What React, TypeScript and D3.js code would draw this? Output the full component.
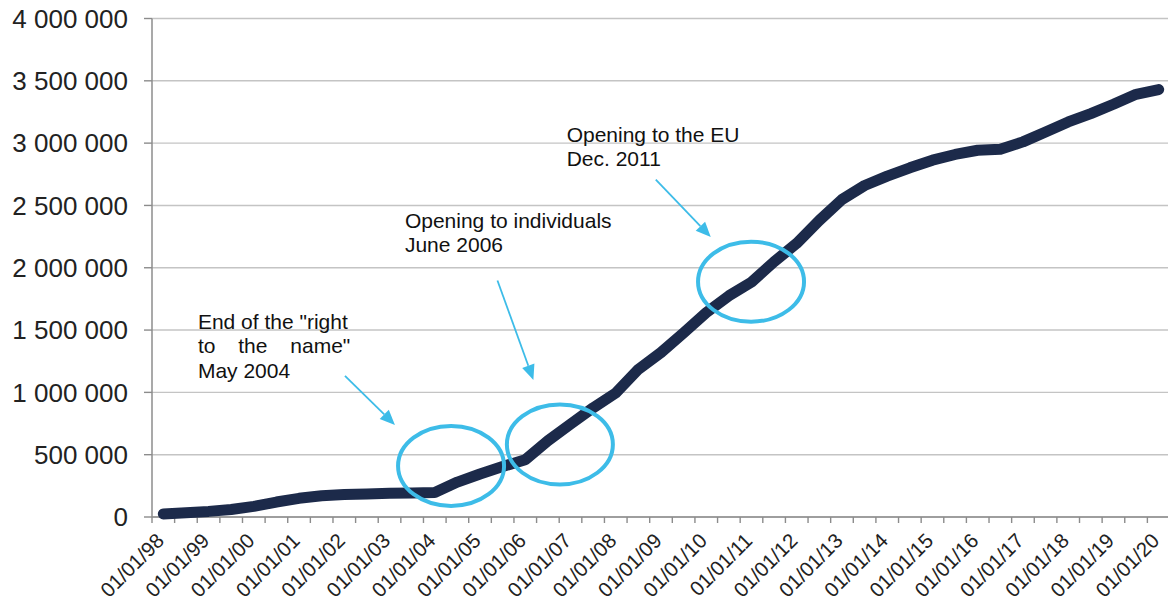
import React from "react";
import * as d3 from "d3";

// Semiannual observation dates (01/01 and 01/07 of each year, 1998–2020)
const categories: string[] = [];
for (let y = 98; y <= 120; y++) {
  const yy = String(y % 100).padStart(2, "0");
  categories.push(`01/01/${yy}`);
  if (y < 120) categories.push(`01/07/${yy}`);
}

// Number of domain names
const values: number[] = [
  25000, 35000, 45000, 60000, 85000, 120000, 150000, 170000, 180000, 185000,
  190000, 193000, 197000, 280000, 345000, 405000, 460000, 612000, 745000, 876000,
  995000, 1185000, 1320000, 1478000, 1640000, 1775000, 1885000, 2048000, 2196000, 2380000,
  2548000, 2660000, 2735000, 2802000, 2863000, 2909000, 2943000, 2951000, 3010000, 3090000,
  3170000, 3237000, 3312000, 3392000, 3430000,
];

const yTicks: number[] = [0, 500000, 1000000, 1500000, 2000000, 2500000, 3000000, 3500000, 4000000];

// Annotations (positions in category index / value units)
const ellipses = [
  { idx: 12.72, val: 410000 },
  { idx: 17.53, val: 582000 },
  { idx: 25.98, val: 1888000 },
];
const arrows = [
  { i0: 8.03, v0: 1132000, i1: 10.24, v1: 739000 },
  { i0: 14.77, v0: 1898000, i1: 16.36, v1: 1100000 },
  { i0: 21.77, v0: 2707000, i1: 24.2, v1: 2247000 },
];
const notes = [
  { idx: 1.53, val: 1510000, lines: ['End of the "right', 'to the name"', "May 2004"], justify: 1 },
  { idx: 10.68, val: 2319000, lines: ["Opening to individuals", "June 2006"], justify: -1 },
  { idx: 17.83, val: 3010000, lines: ["Opening to the EU", "Dec. 2011"], justify: -1 },
];

const W = 1168;
const H = 605;
const LEFT = 152;
const RIGHT = 1170;
const TOP = 18.5;
const BOTTOM = 517;
const FONT = "'Liberation Sans', Arial, sans-serif";
const NAVY = "#1c2a4a";
const BLUE = "#3dbce8";

export default function App() {
  const x = d3.scaleBand<string>().domain(categories).range([LEFT, RIGHT]).paddingInner(0).paddingOuter(0);
  const bw = x.bandwidth();
  const xIdx = d3.scaleLinear().domain([-0.5, categories.length - 0.5]).range([LEFT, RIGHT]);
  const y = d3.scaleLinear().domain([0, 4000000]).range([BOTTOM, TOP]);
  const fmt = (v: number) => d3.format(",")(v).replace(/,/g, " ");

  const line = d3
    .line<number>()
    .x((_, i) => (x(categories[i]) as number) + bw / 2)
    .y((d) => y(d));

  return (
    <svg width={W} height={H} style={{ position: "absolute", left: 0, top: 0, background: "#fff" }}>
      <rect width={W} height={H} fill="#fff" />
      {/* gridlines */}
      {yTicks.map((t) => (
        <line key={"g" + t} x1={LEFT} x2={W} y1={y(t)} y2={y(t)} stroke="#c4c4c4" strokeWidth={1.4} />
      ))}
      {/* y axis */}
      <line x1={LEFT} x2={LEFT} y1={TOP} y2={BOTTOM} stroke="#8c8c8c" strokeWidth={1.5} />
      {yTicks.map((t) => (
        <g key={"yt" + t}>
          <line x1={LEFT - 8} x2={LEFT} y1={y(t)} y2={y(t)} stroke="#8c8c8c" strokeWidth={1.4} />
          <text x={128} y={y(t)} dy="0.36em" textAnchor="end" fontFamily={FONT} fontSize={26} fill="#222">
            {fmt(t)}
          </text>
        </g>
      ))}
      {/* x axis */}
      <line x1={LEFT} x2={W} y1={BOTTOM} y2={BOTTOM} stroke="#8c8c8c" strokeWidth={1.5} />
      {categories.map((c, i) => (
        <line key={"xt" + i} x1={(x(c) as number) + bw} x2={(x(c) as number) + bw} y1={BOTTOM} y2={BOTTOM + 6} stroke="#8c8c8c" strokeWidth={1.4} />
      ))}
      <line x1={LEFT} x2={LEFT} y1={BOTTOM} y2={BOTTOM + 6} stroke="#8c8c8c" strokeWidth={1.4} />
      {categories.map((c, i) =>
        i % 2 === 0 ? (
          <text
            key={"xl" + i}
            transform={`translate(${(x(c) as number) + bw / 2 + 2},${542}) rotate(-45)`}
            textAnchor="end"
            fontFamily={FONT}
            fontSize={20.5}
            fill="#222"
          >
            {c}
          </text>
        ) : null
      )}
      {/* data line */}
      <path d={line(values) || ""} fill="none" stroke={NAVY} strokeWidth={11} strokeLinejoin="round" strokeLinecap="round" />
      {/* ellipses */}
      {ellipses.map((e, i) => (
        <ellipse key={"e" + i} cx={xIdx(e.idx)} cy={y(e.val)} rx={53} ry={40} fill="none" stroke={BLUE} strokeWidth={4} />
      ))}
      {/* arrows */}
      {arrows.map((a, i) => {
        const x0 = xIdx(a.i0), y0 = y(a.v0), x1 = xIdx(a.i1), y1 = y(a.v1);
        const ang = Math.atan2(y1 - y0, x1 - x0);
        const L = 15, hw = 6.5;
        const bx = x1 - L * Math.cos(ang), by = y1 - L * Math.sin(ang);
        const px = -Math.sin(ang) * hw, py = Math.cos(ang) * hw;
        return (
          <g key={"a" + i}>
            <line x1={x0} y1={y0} x2={bx} y2={by} stroke={BLUE} strokeWidth={1.8} />
            <polygon points={`${x1},${y1} ${bx + px},${by + py} ${bx - px},${by - py}`} fill={BLUE} />
          </g>
        );
      })}
      {/* notes */}
      {notes.map((n, i) => (
        <text key={"n" + i} fontFamily={FONT} fontSize={21} fill="#111">
          {n.lines.map((l, j) => (
            <tspan
              key={j}
              x={xIdx(n.idx)}
              y={y(n.val) + j * 24.5}
              wordSpacing={n.justify === 1 && j === 1 ? 17 : 0}
            >
              {l}
            </tspan>
          ))}
        </text>
      ))}
    </svg>
  );
}
